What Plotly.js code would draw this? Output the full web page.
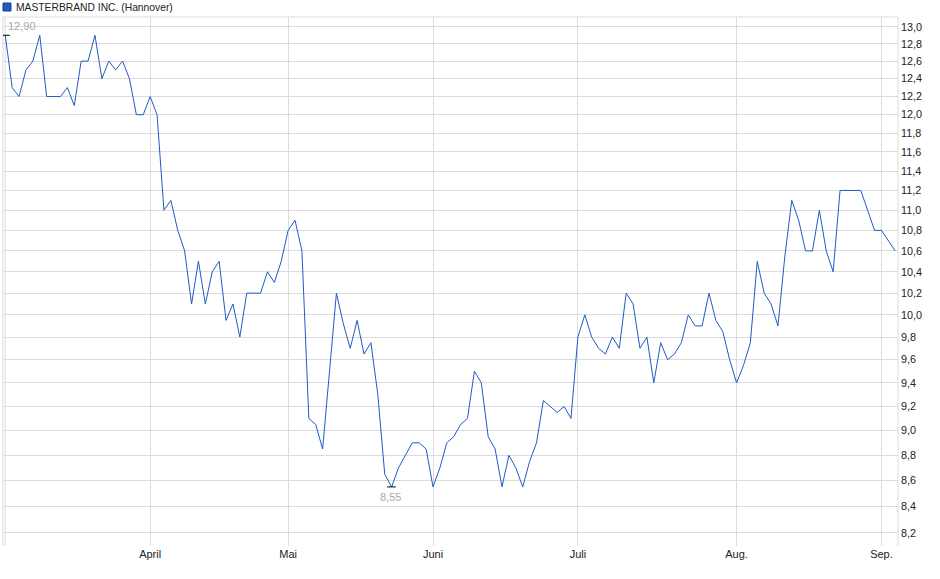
<!DOCTYPE html>
<html>
<head>
<meta charset="utf-8">
<script src="https://cdn.plot.ly/plotly-3.0.1.min.js"></script>
<style>
html,body{margin:0;padding:0;background:#fff;}
#chart{width:940px;height:579px;}
</style>
</head>
<body>
<div id="chart"></div>
<script>
// ---- data ----
const seriesName = "MASTERBRAND INC. (Hannover)";
const startDate = "2025-03-03";
const endDate = "2025-09-03";
const holidays = ["2025-04-18", "2025-04-21", "2025-05-01"];
const prices = [
  12.9, 12.3, 12.2, 12.5, 12.6, 12.9, 12.2, 12.2, 12.2, 12.3,
  12.1, 12.6, 12.6, 12.9, 12.4, 12.6, 12.5, 12.6, 12.4, 12.0,
  12.0, 12.2, 12.0, 11.0, 11.1, 10.8, 10.6, 10.1, 10.5, 10.1,
  10.4, 10.5, 9.95, 10.1, 9.8, 10.2, 10.2, 10.2, 10.4, 10.3,
  10.5, 10.8, 10.9, 10.6, 9.1, 9.05, 8.85, 9.5, 10.2, 9.92,
  9.7, 9.95, 9.65, 9.75, 9.3, 8.65, 8.55, 8.7, 8.8, 8.9,
  8.9, 8.85, 8.55, 8.7, 8.9, 8.95, 9.05, 9.1, 9.5, 9.4,
  8.95, 8.85, 8.55, 8.8, 8.7, 8.55, 8.75, 8.9, 9.25, 9.2,
  9.15, 9.2, 9.1, 9.8, 10.0, 9.8, 9.7, 9.65, 9.8, 9.7,
  10.2, 10.1, 9.7, 9.8, 9.4, 9.75, 9.6, 9.65, 9.75, 10.0,
  9.9, 9.9, 10.2, 9.95, 9.85, 9.6, 9.4, 9.55, 9.75, 10.5,
  10.2, 10.1, 9.9, 10.55, 11.1, 10.9, 10.6, 10.6, 11.0, 10.6,
  10.4, 11.2, 11.2, 11.2, 11.2, 11.0, 10.8, 10.8, 10.7, 10.6
];
const monthTickDates = ["2025-04-01", "2025-05-02", "2025-06-02", "2025-07-01", "2025-08-01", "2025-09-01"];
const monthTickLabels = ["April", "Mai", "Juni", "Juli", "Aug.", "Sep."];
const yTickValues = [8.2, 8.4, 8.6, 8.8, 9.0, 9.2, 9.4, 9.6, 9.8, 10.0, 10.2, 10.4, 10.6,
  10.8, 11.0, 11.2, 11.4, 11.6, 11.8, 12.0, 12.2, 12.4, 12.6, 12.8, 13.0];

// ---- trading-day categories ----
function tradingDays(s, e, hol) {
  const out = [];
  const d = new Date(s + "T00:00:00Z");
  const end = new Date(e + "T00:00:00Z");
  while (d <= end) {
    const wd = d.getUTCDay();
    const iso = d.toISOString().slice(0, 10);
    if (wd !== 0 && wd !== 6 && hol.indexOf(iso) < 0) out.push(iso);
    d.setUTCDate(d.getUTCDate() + 1);
  }
  return out;
}
const dates = tradingDays(startDate, endDate, holidays);

// ---- layout geometry ----
const W = 940, H = 579;
const M = {l: 3, r: 42, t: 17, b: 33};
const PW = W - M.l - M.r, PH = H - M.t - M.b;
const px = x => (x - M.l) / PW;
const py = y => (H - M.b - y) / PH;

const fmt = v => v.toFixed(2).replace(".", ",");
const maxV = Math.max.apply(null, prices);
const minV = Math.min.apply(null, prices);
const iMax = prices.indexOf(maxV);
const iMin = prices.indexOf(minV);

const FONT = "Liberation Sans, Arial, sans-serif";
const GRID = "#dcdcdc";
const LINE = "#1e5bc6";

const trace = {
  x: dates,
  y: prices,
  type: "scatter",
  mode: "lines",
  line: {color: LINE, width: 1},
  hoverinfo: "skip"
};

const layout = {
  width: W, height: H,
  margin: M,
  paper_bgcolor: "#ffffff",
  plot_bgcolor: "#ffffff",
  showlegend: false,
  font: {family: FONT, size: 11, color: "#222"},
  xaxis: {
    type: "category",
    range: [-0.33, dates.length - 1 + 0.4],
    tickmode: "array",
    tickvals: monthTickDates,
    ticktext: monthTickLabels,
    showgrid: true,
    gridcolor: GRID,
    gridwidth: 1,
    zeroline: false,
    showline: false,
    ticks: "",
    tickfont: {family: FONT, size: 11, color: "#222"},
    fixedrange: true
  },
  yaxis: {
    type: "log",
    side: "right",
    range: [0.90859, 1.11782],
    tickmode: "array",
    tickvals: yTickValues,
    ticktext: yTickValues.map(v => v.toFixed(1).replace(".", ",")),
    showgrid: true,
    gridcolor: GRID,
    gridwidth: 1,
    zeroline: false,
    showline: false,
    ticks: "",
    ticklabelstandoff: 2,
    tickfont: {family: FONT, size: 10.8, color: "#222"},
    fixedrange: true
  },
  shapes: [
    {type: "line", xref: "paper", yref: "paper", x0: 0, x1: 1, y0: 1, y1: 1, line: {color: GRID, width: 1}},
    {type: "line", xref: "paper", yref: "paper", x0: 0, x1: 0, y0: 0, y1: 1, line: {color: GRID, width: 1}},
    {type: "line", xref: "paper", yref: "paper", x0: 1, x1: 1, y0: 0, y1: 1, line: {color: GRID, width: 1}},
    {type: "line", xref: "x", yref: "paper", x0: 0, x1: 0, y0: 0, y1: 1, layer: "below", line: {color: GRID, width: 1}},
    {type: "line", xref: "x", yref: "y", x0: iMax - 0.6, x1: iMax + 0.65, y0: maxV, y1: maxV, line: {color: "#000", width: 1}},
    {type: "line", xref: "x", yref: "y", x0: iMin - 0.65, x1: iMin + 0.6, y0: minV, y1: minV, line: {color: "#000", width: 1}},
    {type: "rect", xref: "paper", yref: "paper", x0: px(3), x1: px(11), y0: py(11), y1: py(3),
      fillcolor: "#1e5bc6", line: {color: "#1a3f80", width: 1}}
  ],
  annotations: [
    {xref: "paper", yref: "paper", x: px(14), y: py(7), xanchor: "left", yanchor: "middle",
      text: seriesName, showarrow: false, font: {family: FONT, size: 10.3, color: "#222"}},
    {xref: "x", yref: "y", x: iMax, y: Math.log10(maxV), xanchor: "left", yanchor: "middle",
      xshift: 1, yshift: 9, text: fmt(maxV), showarrow: false, font: {family: FONT, size: 11, color: "#aaaaaa"}},
    {xref: "x", yref: "y", x: iMin, y: Math.log10(minV), xanchor: "center", yanchor: "middle",
      xshift: -1, yshift: -10, text: fmt(minV), showarrow: false, font: {family: FONT, size: 11, color: "#aaaaaa"}}
  ]
};

Plotly.newPlot("chart", [trace], layout, {staticPlot: true, displayModeBar: false});
</script>
</body>
</html>
